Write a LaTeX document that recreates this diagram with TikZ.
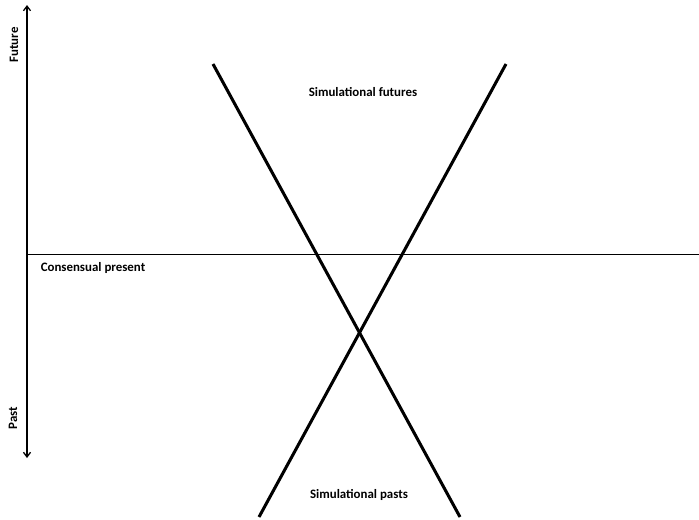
\documentclass[tikz,border=0pt]{standalone}
\usepackage{fontspec}
\setmainfont{Carlito}
\usetikzlibrary{arrows.meta}

\begin{document}
\begin{tikzpicture}[x=0.03cm,y=-0.03cm,line join=round,
    font=\fontsize{11}{13}\selectfont\bfseries,
    asse/.style={line width=1.1pt,{Straight Barb[length=4pt,width=6pt]}-{Straight Barb[length=4pt,width=6pt]}},
    presente/.style={line width=0.8pt},
    cono/.style={line width=2.6pt},
    testo/.style={inner sep=0pt}]
  \useasboundingbox (0,0) rectangle (699,519);

  % ---- asse del tempo -----------------------------------------------------
  \coordinate (tf) at (27,5);
  \coordinate (tp) at (27,458);
  \draw[asse] (tp) -- (tf);

  \node[testo,rotate=90] (fut) at (14,45) {Future};
  \node[testo,rotate=90] (pas) at (13,418) {Past};

  % ---- il presente condiviso ----------------------------------------------
  \coordinate (p0) at (27,254);
  \coordinate (p1) at (699,254);
  \draw[presente] (p0) -- (p1);
  \node[testo] (cp) at (93,268) {Consensual present};

  % ---- le due rette incrociate --------------------------------------------
  \coordinate (a1) at (213,64);
  \coordinate (a2) at (460,517);
  \coordinate (b1) at (506,64);
  \coordinate (b2) at (259,517);
  \draw[cono] (a1) -- (a2);
  \draw[cono] (b1) -- (b2);

  \node[testo] (sf) at (363,92) {Simulational futures};
  \node[testo] (sp) at (359,495) {Simulational pasts};

\end{tikzpicture}
\end{document}
